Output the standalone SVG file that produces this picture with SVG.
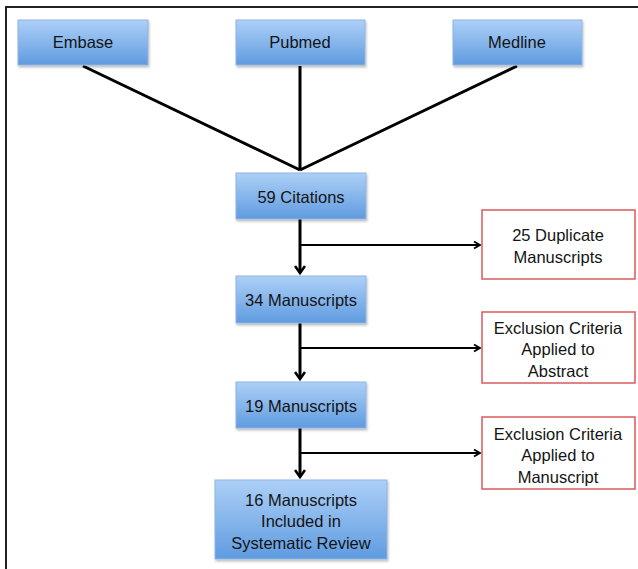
<svg xmlns="http://www.w3.org/2000/svg" width="638" height="569" viewBox="0 0 638 569">
<style>
.box{fill:url(#blue);stroke:#8fb4e3;stroke-width:1}
.red{fill:#fff;stroke:#d9595b;stroke-width:1.5}
text{font-family:"Liberation Sans",Arial,sans-serif;font-size:16.5px;fill:#141414;text-anchor:middle}
.ln{stroke:#000;stroke-width:3;fill:none}
.hl{stroke:#000;stroke-width:2;fill:none}
</style>
<defs>
<linearGradient id="blue" x1="0" y1="0" x2="0" y2="1">
<stop offset="0" stop-color="#add0f7"/>
<stop offset="1" stop-color="#5f9be0"/>
</linearGradient>
<filter id="sh" x="-10%" y="-10%" width="130%" height="140%">
<feDropShadow dx="1" dy="2" stdDeviation="1.2" flood-color="#000" flood-opacity="0.25"/>
</filter>
<marker id="chev" markerWidth="12" markerHeight="12" refX="9" refY="6" orient="auto" markerUnits="userSpaceOnUse">
<path d="M2,1 L9,6 L2,11" fill="none" stroke="#000" stroke-width="2.6"/>
</marker>
<marker id="chs" markerWidth="10" markerHeight="10" refX="8" refY="5" orient="auto" markerUnits="userSpaceOnUse">
<path d="M2,1.5 L8,5 L2,8.5" fill="none" stroke="#000" stroke-width="1.8"/>
</marker>
</defs>
<rect width="638" height="569" fill="#fff"/>
<path d="M6,569 L6,7 L638,7" fill="none" stroke="#222" stroke-width="2"/>
<g id="connectors">
<path class="ln" d="M83,66 L300,170 M300,66 L300,170 M517,66 L300,170"/>
<path class="ln" d="M300,219 L300,273" marker-end="url(#chev)"/>
<path class="hl" d="M300,245 L480,245" marker-end="url(#chs)"/>
<path class="ln" d="M300,323 L300,379" marker-end="url(#chev)"/>
<path class="hl" d="M300,348 L480,348" marker-end="url(#chs)"/>
<path class="ln" d="M300,428 L300,477" marker-end="url(#chev)"/>
<path class="hl" d="M300,453 L480,453" marker-end="url(#chs)"/>
</g>
<g id="embase"><rect class="box" filter="url(#sh)" x="18" y="20" width="130" height="45"/><text x="83" y="48">Embase</text></g>
<g id="pubmed"><rect class="box" filter="url(#sh)" x="236" y="20" width="129" height="45"/><text x="300" y="48">Pubmed</text></g>
<g id="medline"><rect class="box" filter="url(#sh)" x="453" y="20" width="129" height="45"/><text x="517" y="48">Medline</text></g>
<g id="citations"><rect class="box" filter="url(#sh)" x="236" y="173" width="130" height="46"/><text x="301" y="203">59 Citations</text></g>
<g id="m34"><rect class="box" filter="url(#sh)" x="236" y="276" width="130" height="47"/><text x="301" y="306">34 Manuscripts</text></g>
<g id="m19"><rect class="box" filter="url(#sh)" x="236" y="382" width="130" height="46"/><text x="301" y="412">19 Manuscripts</text></g>
<g id="m16"><rect class="box" filter="url(#sh)" x="215" y="480" width="172" height="79"/><text x="301" y="506">16 Manuscripts</text><text x="301" y="527">Included in</text><text x="301" y="549">Systematic Review</text></g>
<g id="dup"><rect class="red" x="482" y="210" width="153" height="69"/><text x="558" y="241">25 Duplicate</text><text x="558" y="263">Manuscripts</text></g>
<g id="exabs"><rect class="red" x="482" y="312" width="153" height="71"/><text x="558" y="334">Exclusion Criteria</text><text x="558" y="355">Applied to</text><text x="558" y="377">Abstract</text></g>
<g id="exman"><rect class="red" x="482" y="417" width="153" height="72"/><text x="558" y="440">Exclusion Criteria</text><text x="558" y="461">Applied to</text><text x="558" y="483">Manuscript</text></g>
</svg>
